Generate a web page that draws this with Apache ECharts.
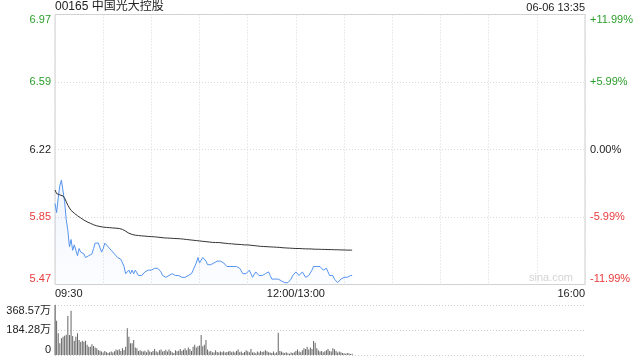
<!DOCTYPE html>
<html>
<head>
<meta charset="utf-8">
<script src="https://cdn.jsdelivr.net/npm/echarts@6/dist/echarts.min.js"></script>
<style>
html,body{margin:0;padding:0;background:#fff;}
#c{width:640px;height:360px;}
</style>
</head>
<body>
<div id="c"></div>
<script>
const stockTitle = '00165 中国光大控股';
const stampText = '06-06 13:35';
const prevClose = 6.22;
const priceLabels = ['5.47','5.85','6.22','6.59','6.97'];
const pctLabels = ['-11.99%','-5.99%','0.00%','+5.99%','+11.99%'];
const labelTone = ['r','r','k','g','g'];
const volLabels = ['0','184.28万','368.57万'];
const timeTicks = [0,150,330];
const timeTexts = ['09:30','12:00/13:00','16:00'];

const price = [5.92,5.87,5.95,6.02,6.05,5.99,5.93,5.83,5.77,5.68,
5.72,5.66,5.69,5.66,5.63,5.67,5.65,5.65,5.64,5.62,
5.63,5.63,5.62,5.64,5.67,5.70,5.71,5.70,5.69,5.65,
5.67,5.70,5.71,5.68,5.68,5.66,5.65,5.64,5.63,5.62,
5.61,5.61,5.60,5.57,5.53,5.52,5.55,5.53,5.55,5.53,
5.55,5.54,5.52,5.52,5.52,5.53,5.54,5.54,5.55,5.55,
5.55,5.55,5.56,5.56,5.56,5.56,5.54,5.52,5.52,5.51,
5.52,5.52,5.53,5.53,5.53,5.52,5.52,5.52,5.51,5.51,
5.51,5.51,5.52,5.52,5.52,5.53,5.55,5.56,5.59,5.62,
5.59,5.60,5.62,5.61,5.60,5.58,5.57,5.58,5.59,5.59,
5.60,5.60,5.60,5.60,5.59,5.59,5.59,5.57,5.57,5.57,
5.57,5.57,5.57,5.57,5.56,5.56,5.55,5.53,5.52,5.53,
5.54,5.55,5.53,5.51,5.52,5.54,5.53,5.52,5.52,5.52,
5.53,5.53,5.53,5.54,5.52,5.50,5.50,5.50,5.50,5.50,
5.49,5.49,5.49,5.48,5.48,5.48,5.49,5.50,5.52,5.53,
5.54,5.53,5.52,5.53,5.54,5.53,5.51,5.51,5.52,5.53,
5.55,5.57,5.56,5.57,5.58,5.57,5.56,5.55,5.55,5.56,
5.54,5.52,5.52,5.52,5.50,5.49,5.48,5.48,5.50,5.51,
5.51,5.51,5.51,5.52,5.52,5.52];

const avgPrice = [5.995,5.975,5.968,5.968,5.967,5.962,5.950,5.930,5.910,5.895,
5.882,5.874,5.866,5.860,5.852,5.846,5.840,5.834,5.828,5.822,
5.818,5.814,5.810,5.806,5.802,5.799,5.796,5.794,5.792,5.790,
5.789,5.788,5.787,5.786,5.786,5.785,5.784,5.783,5.783,5.782,
5.781,5.779,5.776,5.772,5.766,5.760,5.755,5.751,5.748,5.746,
5.744,5.743,5.742,5.741,5.740,5.739,5.739,5.738,5.737,5.737,
5.736,5.735,5.735,5.734,5.733,5.732,5.731,5.730,5.729,5.729,
5.728,5.728,5.727,5.727,5.726,5.726,5.725,5.725,5.724,5.723,
5.722,5.721,5.720,5.719,5.718,5.717,5.716,5.715,5.714,5.713,
5.712,5.711,5.710,5.709,5.708,5.707,5.706,5.705,5.704,5.704,
5.703,5.703,5.703,5.702,5.701,5.700,5.699,5.698,5.697,5.696,
5.696,5.695,5.694,5.694,5.693,5.693,5.692,5.691,5.690,5.690,
5.690,5.689,5.688,5.687,5.686,5.685,5.684,5.683,5.682,5.682,
5.681,5.680,5.680,5.679,5.679,5.678,5.678,5.677,5.677,5.676,
5.676,5.675,5.674,5.674,5.673,5.672,5.672,5.671,5.671,5.670,
5.670,5.670,5.670,5.669,5.669,5.669,5.668,5.668,5.668,5.667,
5.667,5.667,5.666,5.666,5.666,5.665,5.665,5.665,5.665,5.664,
5.664,5.664,5.664,5.663,5.663,5.663,5.663,5.662,5.662,5.662,
5.662,5.662,5.661,5.661,5.661,5.661];

const volume = [368.57,253,160,86,123,135,142,150,287,147,
327,140,105,135,160,110,95,105,98,105,
75,61,61,80,66,56,49,37,32,25,
18,30,22,15,20,25,18,28,40,35,
42,30,49,37,60,197,135,86,86,110,
56,49,30,35,28,25,32,20,38,25,
22,30,45,28,20,35,40,25,30,38,
25,40,30,20,15,35,28,32,45,30,
38,50,35,55,45,30,60,75,55,65,
70,147,65,75,110,40,25,30,20,18,
35,22,18,25,20,28,18,22,25,30,
20,25,18,30,40,20,25,15,22,35,
28,20,45,18,20,12,25,18,30,22,
25,35,28,20,18,15,25,12,20,164,
30,25,18,15,20,12,10,18,15,20,
30,40,25,20,35,50,45,60,40,55,
45,103,90,50,35,25,30,20,28,35,
45,30,25,50,42,30,18,25,20,15,
12,10,15,12,8,10];

const FONT = '"Liberation Sans", Arial, "Noto Sans CJK SC", sans-serif';
const GREEN = '#2a9d2a', RED = '#e83b3b', DARK = '#222';
const rich = {
  g:{color:GREEN,fontSize:11,fontFamily:FONT},
  r:{color:RED,fontSize:11,fontFamily:FONT},
  k:{color:DARK,fontSize:11,fontFamily:FONT}
};
const yMin = 5.47, yMax = 6.97, yStep = 0.375;
const idxOf = v => Math.round((v - yMin) / yStep);

const chart = echarts.init(document.getElementById('c'), null, {renderer:'canvas'});
chart.setOption({
  animation:false,
  backgroundColor:'#fff',
  textStyle:{fontFamily:FONT},
  grid:[
    {left:55, right:55, top:14.5, height:270, show:true, borderColor:'#cfcfcf', borderWidth:1, backgroundColor:'transparent'},
    {left:55, right:55, top:305, height:50, show:false}
  ],
  xAxis:[
    {type:'value', gridIndex:0, min:0, max:330, interval:30,
      axisLine:{show:false}, axisTick:{show:false},
      splitLine:{show:true, lineStyle:{color:'#d8d8d8', type:[1,2], width:1}},
      axisLabel:{show:true, margin:4, fontSize:11, color:DARK, fontFamily:FONT,
        alignMinLabel:'left', alignMaxLabel:'right',
        formatter:v => { const i = timeTicks.indexOf(Math.round(v)); return i >= 0 ? timeTexts[i] : ''; }}
    },
    {type:'value', gridIndex:1, min:0, max:330, interval:30,
      axisLine:{show:false}, axisTick:{show:false}, splitLine:{show:false}, axisLabel:{show:false}}
  ],
  yAxis:[
    {type:'value', gridIndex:0, min:yMin, max:yMax, interval:yStep,
      axisLine:{show:false}, axisTick:{show:false},
      splitLine:{show:true, lineStyle:{color:'#d8d8d8', type:[1,2], width:1}},
      axisLabel:{margin:4, verticalAlignMinLabel:'bottom', verticalAlignMaxLabel:'top', rich:rich,
        formatter:v => { const i = idxOf(v); return '{' + labelTone[i] + '|' + priceLabels[i] + '}'; }}
    },
    {type:'value', gridIndex:0, position:'right', min:yMin, max:yMax, interval:yStep,
      axisLine:{show:false}, axisTick:{show:false}, splitLine:{show:false},
      axisLabel:{margin:5, verticalAlignMinLabel:'bottom', verticalAlignMaxLabel:'top', rich:rich,
        formatter:v => { const i = idxOf(v); return '{' + labelTone[i] + '|' + pctLabels[i] + '}'; }}
    },
    {type:'value', gridIndex:1, min:0, max:368.57, interval:184.285,
      axisLine:{show:true, lineStyle:{color:'#bbb', width:1}}, axisTick:{show:false},
      splitLine:{show:true, lineStyle:{color:'#cfcfcf', type:[1,2], width:1}},
      axisLabel:{margin:4, fontSize:11, color:DARK, fontFamily:FONT,
        verticalAlignMinLabel:'bottom', verticalAlignMaxLabel:'top',
        formatter:v => volLabels[Math.round(v / 184.285)]}
    }
  ],
  series:[
    {type:'line', xAxisIndex:0, yAxisIndex:0, symbol:'none', z:3,
      data:price.map((v,i)=>[i,v]),
      lineStyle:{color:'#5594f0', width:1},
      areaStyle:{origin:'start', color:new echarts.graphic.LinearGradient(0,0,0,1,[
        {offset:0, color:'rgba(85,148,240,0.12)'},{offset:1, color:'rgba(85,148,240,0.03)'}])}
    },
    {type:'line', xAxisIndex:0, yAxisIndex:0, symbol:'none', z:4,
      data:avgPrice.map((v,i)=>[i,v]),
      lineStyle:{color:'#333', width:1}
    },
    {type:'bar', xAxisIndex:1, yAxisIndex:2, barWidth:1,
      data:volume.map((v,i)=>[i,v]),
      itemStyle:{color:'#666'}
    }
  ],
  graphic:[
    {type:'text', left:55, top:1, style:{text:stockTitle, fill:DARK, font:'12px "Liberation Sans", "Noto Sans CJK SC", sans-serif'}},
    {type:'text', right:55, top:2, style:{text:stampText, fill:DARK, font:'11px "Liberation Sans", sans-serif'}},
    {type:'text', right:67, top:272, z:0, style:{text:'sina.com', fill:'#d4d4d4', font:'11px "Liberation Sans", sans-serif'}}
  ]
});
</script>
</body>
</html>
